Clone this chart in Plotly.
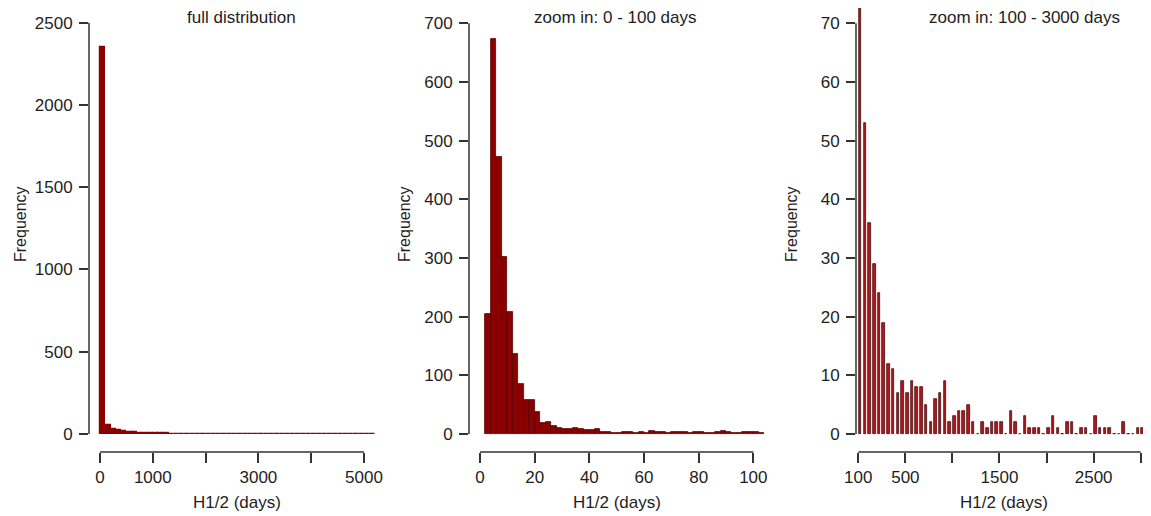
import numpy as np
import plotly.graph_objects as go

# ---------------- data ----------------
# Panel 1: full distribution, 100-day bins starting at 0
full_bin_start = list(range(0, 5200, 100))
full_counts = [2354, 55, 32, 22, 16, 12, 10, 9, 8, 9, 6, 5, 4, 3, 3, 3, 3, 3, 2, 2,
               2, 3, 2, 1, 2, 3, 2, 1, 2, 1, 1, 1, 2, 1, 1, 1, 1, 2, 1, 1,
               1, 1, 1, 1, 1, 1, 1, 1, 1, 1, 1, 1]

# Panel 2: zoom 0-100 days, 2-day bins starting at 2
zoomA_bin_start = list(range(2, 104, 2))
zoomA_counts = [204, 674, 472, 302, 208, 136, 86, 58, 58, 37, 19, 21, 14, 10, 9, 9, 11, 8, 7, 6,
                9, 3, 3, 2, 2, 3, 4, 2, 3, 1, 5, 4, 3, 2, 3, 4, 3, 2, 3, 4,
                1, 2, 3, 5, 4, 2, 2, 3, 4, 3, 2]

# Panel 3: zoom 100-3000 days, 50-day bins
zoomB_bin_offset = list(range(0, 3100, 50))
zoomB_counts = [80, 53, 36, 29, 24, 19, 12, 11, 7, 9, 7, 9, 8, 8, 5, 2, 6, 7, 9, 2,
                3, 4, 4, 5, 2, 0, 2, 1, 2, 2, 2, 0, 4, 2, 0, 3, 1, 1, 1, 0,
                1, 3, 1, 0, 2, 2, 0, 1, 1, 0, 3, 1, 1, 1, 0, 0, 2, 0, 0, 1,
                1, 1]

titles = ["full distribution", "zoom in: 0 - 100 days", "zoom in: 100 - 3000 days"]
x_label = "H1/2 (days)"
y_label = "Frequency"

x1_ticks = [0, 1000, 2000, 3000, 4000, 5000]
x1_text = ["0", "1000", "", "3000", "", "5000"]
x2_ticks = [0, 20, 40, 60, 80, 100]
x2_text = ["0", "20", "40", "60", "80", "100"]
x3_ticks = [0, 500, 1000, 1500, 2000, 2500, 3000]
x3_text = ["100", "500", "", "1500", "", "2500", ""]
y1_ticks = [0, 500, 1000, 1500, 2000, 2500]
y2_ticks = [0, 100, 200, 300, 400, 500, 600, 700]
y3_ticks = [0, 10, 20, 30, 40, 50, 60, 70]

# ---------------- figure ----------------
OFF = 8                     # page body margin of the html page
W, H = 1151 - OFF, 516 - OFF
PLOT_BOTTOM = 452 - OFF     # figure px of x-axis line
FONT = "Liberation Sans, Arial, Helvetica, sans-serif"
TXT = "#1e1e1e"
AX = "#333333"

fig = go.Figure()

fig.add_trace(go.Bar(
    x=[s + 50 for s in full_bin_start], y=full_counts, width=100,
    marker=dict(color="#8b0000", line=dict(color="#8b0000", width=1.2)),
    xaxis="x", yaxis="y", showlegend=False))

fig.add_trace(go.Bar(
    x=[s + 1 for s in zoomA_bin_start], y=zoomA_counts, width=2,
    marker=dict(color="#8b0000", line=dict(color="#5a0000", width=0.8)),
    xaxis="x2", yaxis="y2", showlegend=False))

fig.add_trace(go.Bar(
    x=[s + 20 for s in zoomB_bin_offset], y=zoomB_counts, width=27,
    marker=dict(color="#b0181c", line=dict(color="#3a0000", width=0.7)),
    xaxis="x3", yaxis="y3", showlegend=False))

def px(v):
    # screen x -> paper fraction
    return (v - OFF) / W

def py(v):
    # screen y -> paper fraction (plot area spans fig y 0..PLOT_BOTTOM)
    return (PLOT_BOTTOM - (v - OFF)) / PLOT_BOTTOM

domains = [(89, 395), (469, 776), (856, 1151)]
xranges = [[-208.3, 5587.1], [-4.02, 108.29], [-24.4, 3109.5]]
yranges = [[-109.4, 2589], [-30.7, 726], [-3.07, 72.6]]
xticks = [(x1_ticks, x1_text), (x2_ticks, x2_text), (x3_ticks, x3_text)]
yticks = [y1_ticks, y2_ticks, y3_ticks]

layout = dict(
    width=W, height=H, autosize=False,
    margin=dict(l=0, r=0, t=0, b=H - PLOT_BOTTOM, pad=0),
    paper_bgcolor="white", plot_bgcolor="white",
    font=dict(family=FONT, size=17, color=TXT),
    bargap=0, barmode="overlay",
)

shapes = []
annotations = []
for i in range(3):
    sfx = "" if i == 0 else str(i + 1)
    d0, d1 = domains[i]
    tv, tt = xticks[i]
    layout["xaxis" + sfx] = dict(
        domain=[max(0, px(d0)), min(1, px(d1))], range=xranges[i], anchor="y" + sfx,
        tickmode="array", tickvals=tv, ticktext=tt, automargin=False,
        ticks="outside", ticklen=10, tickwidth=1.5, tickcolor=AX,
        showline=False, showgrid=False, zeroline=False,
        tickfont=dict(family=FONT, size=17, color=TXT), fixedrange=True)
    layout["yaxis" + sfx] = dict(
        domain=[0, 1], range=yranges[i], anchor="x" + sfx,
        tickmode="array", tickvals=yticks[i], automargin=False,
        ticks="outside", ticklen=9, tickwidth=1.5, tickcolor=AX,
        ticklabelstandoff=3,
        showline=False, showgrid=False, zeroline=False,
        tickfont=dict(family=FONT, size=17, color=TXT), fixedrange=True)
    xr = "x" + sfx
    yr = "y" + sfx
    # axis lines spanning first to last tick (R style)
    shapes.append(dict(type="line", xref=xr + " domain", yref=yr,
                       x0=0, x1=0, y0=yticks[i][0], y1=yticks[i][-1],
                       line=dict(color=AX, width=1.5)))
    shapes.append(dict(type="line", xref=xr, yref=yr + " domain",
                       x0=tv[0], x1=tv[-1], y0=0, y1=0,
                       line=dict(color=AX, width=1.5)))

title_x = [241, 615, 1024]
xlab_x = [237, 617, 1004]
ylab_x = [20, 404, 791]
for i in range(3):
    annotations.append(dict(text=titles[i], xref="paper", yref="paper",
                            x=px(title_x[i]), y=py(17.5), showarrow=False,
                            xanchor="center", yanchor="middle",
                            font=dict(family=FONT, size=17, color=TXT)))
    annotations.append(dict(text=x_label, xref="paper", yref="paper",
                            x=px(xlab_x[i]), y=py(502), showarrow=False,
                            xanchor="center", yanchor="middle",
                            font=dict(family=FONT, size=17, color=TXT)))
    annotations.append(dict(text=y_label, xref="paper", yref="paper",
                            x=px(ylab_x[i]), y=py(224), showarrow=False,
                            xanchor="center", yanchor="middle", textangle=-90,
                            font=dict(family=FONT, size=16, color=TXT)))

layout["shapes"] = shapes
layout["annotations"] = annotations
fig.update_layout(**layout)

fig.write_html("out.html")
